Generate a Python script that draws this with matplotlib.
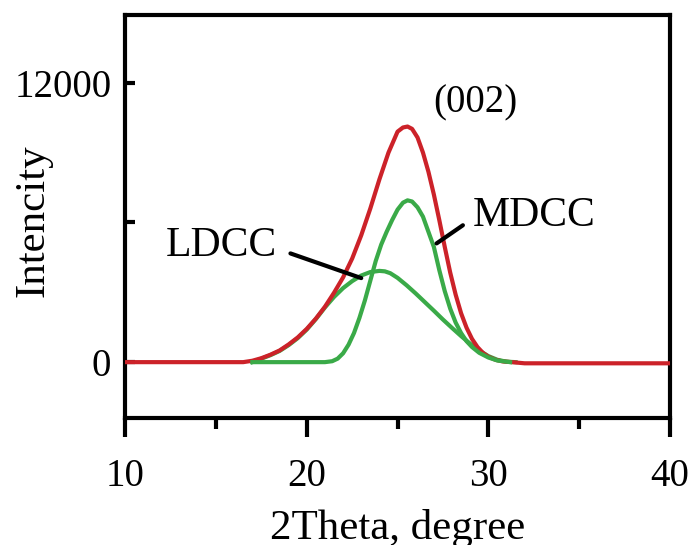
import matplotlib.pyplot as plt
from matplotlib.ticker import MultipleLocator

# 2Theta values (degree) and intensities
total_x = [10, 16.5, 17.0, 17.5, 18.0, 18.5, 19.0, 19.5, 20.0, 20.5, 21.0,
           21.5, 22.0, 22.5, 23.0, 23.5, 24.0, 24.5, 25.0, 25.3, 25.55,
           25.8, 26.1, 26.4, 26.7, 27.0, 27.3, 27.6, 27.9, 28.2, 28.5,
           28.8, 29.1, 29.4, 29.7, 30.0, 30.4, 30.8, 31.3, 32.0, 40]
total_y = [0, 0, 60, 170, 320, 500, 760, 1060, 1430, 1870, 2380,
           2980, 3640, 4450, 5450, 6600, 7850, 9000, 9900, 10080, 10120,
           10020, 9650, 9000, 8180, 7200, 6100, 4950, 3850, 2900, 2100,
           1480, 1000, 650, 400, 230, 100, 30, 0, -50, -50]

mdcc_x = [17.0, 21.0, 21.4, 21.7, 22.0, 22.3, 22.6, 22.9, 23.2, 23.5, 23.8,
          24.1, 24.4, 24.7, 25.0, 25.3, 25.55, 25.8, 26.1, 26.4, 26.7,
          27.0, 27.3, 27.6, 27.9, 28.2, 28.5, 28.8, 29.1, 29.5, 30.0,
          30.5, 31.2]
mdcc_y = [0, 0, 40, 150, 380, 750, 1250, 1900, 2650, 3500, 4350,
          5050, 5600, 6100, 6550, 6850, 6950, 6900, 6650, 6250, 5600,
          4950, 3950, 3050, 2300, 1700, 1250, 900, 650, 400, 200,
          70, 0]

ldcc_x = [17.0, 17.5, 18.0, 18.5, 19.0, 19.5, 20.0, 20.5, 21.0, 21.5, 22.0,
          22.5, 23.0, 23.5, 24.0, 24.3, 24.6, 25.0, 25.5, 26.0, 26.5,
          27.0, 27.5, 28.0, 28.5, 29.0, 29.5, 30.0, 30.5, 31.0, 31.5]
ldcc_y = [0, 150, 300, 480, 730, 1030, 1400, 1850, 2350, 2800, 3180,
          3480, 3720, 3870, 3920, 3900, 3820, 3620, 3300, 2950, 2580,
          2210, 1830, 1470, 1120, 790, 500, 260, 100, 20, 0]

red = "#cc2229"
green = "#3aaa48"
serif = ["Liberation Serif", "DejaVu Serif"]

fig = plt.figure(figsize=(6.92, 5.45), dpi=100)
ax = fig.add_axes([0.181, 0.233, 0.787, 0.739])

ax.plot(ldcc_x, ldcc_y, color=green, lw=3, zorder=2)
ax.plot(total_x, total_y, color=red, lw=3, zorder=3)
ax.plot(mdcc_x, mdcc_y, color=green, lw=3, zorder=4)

ax.set_xlim(10, 40)
ax.set_ylim(-2400, 14900)

ax.xaxis.set_major_locator(MultipleLocator(10))
ax.xaxis.set_minor_locator(MultipleLocator(5))
ax.yaxis.set_major_locator(MultipleLocator(12000))
ax.yaxis.set_minor_locator(MultipleLocator(6000))

ax.tick_params(axis="x", which="major", direction="out", length=14, width=3, pad=15)
ax.tick_params(axis="x", which="minor", direction="out", length=8, width=3)
ax.tick_params(axis="y", which="both", direction="in", length=7, width=3, pad=10)

for s in ax.spines.values():
    s.set_linewidth(3)

for lab in ax.get_xticklabels() + ax.get_yticklabels():
    lab.set_family(serif)
    lab.set_fontsize(28)

ax.set_xlabel("2Theta, degree", family=serif, fontsize=31)
ax.set_ylabel("Intencity", family=serif, fontsize=31)
ax.xaxis.set_label_coords(0.5, -0.225)
ax.yaxis.set_label_coords(-0.134, 0.49)

# peak labels with leader lines
ax.annotate("", xy=(23.0, 3610), xytext=(19.1, 4670),
            arrowprops=dict(arrowstyle="-", color="black", lw=3,
                            shrinkA=0, shrinkB=0), zorder=5)
ax.text(15.3, 5000, "LDCC", family=serif, fontsize=30, ha="center", va="center")
ax.annotate("", xy=(27.15, 5100), xytext=(28.6, 5880),
            arrowprops=dict(arrowstyle="-", color="black", lw=3,
                            shrinkA=0, shrinkB=0), zorder=5)
ax.text(32.5, 6300, "MDCC", family=serif, fontsize=30, ha="center", va="center")
ax.text(29.26, 11140, "(002)", family=serif, fontsize=28, ha="center", va="center")

fig.savefig("out.png", dpi=100)
